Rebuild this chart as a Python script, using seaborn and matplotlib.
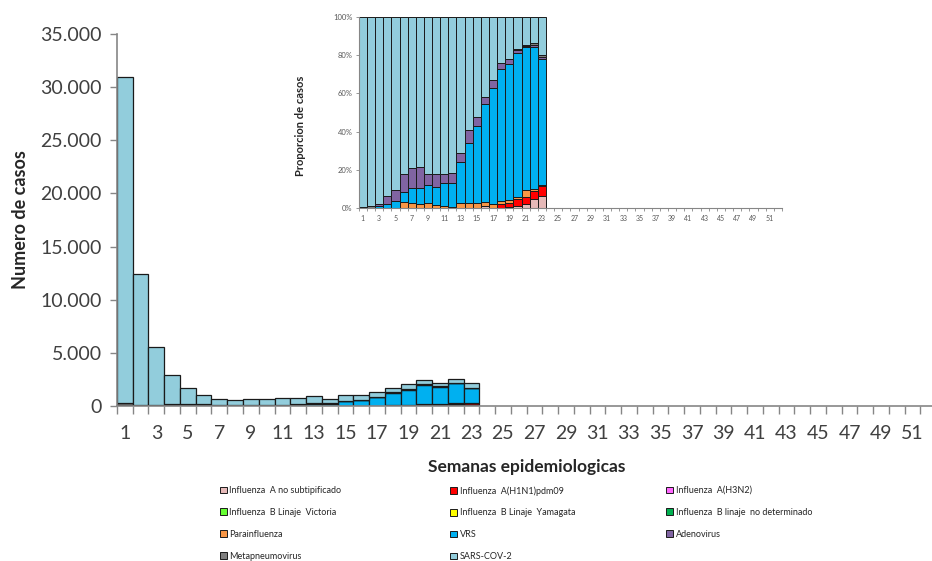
import numpy as np
import pandas as pd
import matplotlib
matplotlib.use("Agg")
import matplotlib.pyplot as plt
import seaborn as sns
from matplotlib.patches import Patch
from matplotlib.ticker import FuncFormatter, FixedLocator

# weeks with data (1-23); axis runs to week 52
weeks = list(range(1, 24))
n_weeks = 52

viruses = [
    "Influenza  A no subtipificado", "Influenza  A(H1N1)pdm09", "Influenza  A(H3N2)",
    "Influenza  B Linaje  Victoria", "Influenza  B Linaje  Yamagata",
    "Influenza  B linaje  no determinado", "Parainfluenza", "VRS", "Adenovirus",
    "Metapneumovirus", "SARS-COV-2",
]
colors = ["#E6B9B8", "#FF0000", "#FF66FF", "#66FF33", "#FFFF00", "#00B050",
          "#F79646", "#00B0F0", "#8064A2", "#7F7F7F", "#92CDDC"]

# cases per week
flu_a_nosub = [0, 0, 0, 0, 0, 0, 0, 0, 0, 0, 0, 0, 0, 0, 0, 10, 0, 0, 10, 25, 43, 127, 136]
flu_h1n1 = [0, 0, 0, 0, 0, 0, 0, 0, 0, 0, 0, 0, 0, 0, 0, 0, 0, 34, 41, 98, 86, 102, 107]
flu_h3n2 = [0] * 23
flu_b_victoria = [0] * 23
flu_b_yamagata = [0] * 23
flu_b_nodet = [0] * 23
parainfluenza = [0, 0, 0, 0, 0, 30, 17, 11, 17, 10, 8, 4, 23, 17, 25, 20, 26, 25, 41, 25, 76, 25, 11]
vrs = [90, 40, 55, 70, 60, 55, 51, 45, 64, 63, 93, 97, 197, 209, 404, 514, 805, 1166, 1448,
       1838, 1609, 1880, 1406]
adenovirus = [0, 0, 55, 115, 100, 93, 69, 61, 36, 46, 37, 44, 40, 42, 45, 38, 50, 59, 47,
              37, 22, 38, 21]
metapneumo = [150, 90, 0, 0, 0, 0, 0, 0, 0, 0, 0, 0, 0, 0, 0, 0, 0, 0, 0, 12, 11, 15, 21]
sars_cov2 = [30760, 12320, 5440, 2735, 1540, 822, 523, 423, 543, 541, 642, 635, 650, 392,
             526, 418, 439, 406, 453, 415, 313, 353, 428]

series = [flu_a_nosub, flu_h1n1, flu_h3n2, flu_b_victoria, flu_b_yamagata, flu_b_nodet,
          parainfluenza, vrs, adenovirus, metapneumo, sars_cov2]

df = pd.DataFrame([
    {"week": w, "virus": v, "cases": c}
    for v, vals in zip(viruses, series)
    for w, c in zip(weeks, vals)
])
palette = dict(zip(viruses, colors))

sns.set_style("white")
plt.rcParams["font.family"] = ["Lato", "DejaVu Sans"]

fig = plt.figure(figsize=(9.32, 5.61), dpi=100)
ax = fig.add_axes([0.1255, 0.2763, 0.879, 0.663])

# seaborn stacks the first hue level on top, so pass the order reversed
sns.histplot(data=df, x="week", weights="cases", hue="virus", hue_order=viruses[::-1],
             palette=palette, multiple="stack", discrete=True, shrink=1.0,
             edgecolor="#1a1a1a", linewidth=0.9, alpha=1, legend=False, ax=ax)

ax.set_xlim(0.5, n_weeks + 0.5)
ax.set_ylim(0, 35000)
ax.set_yticks(np.arange(0, 35001, 5000))
ax.yaxis.set_major_formatter(FuncFormatter(lambda v, p: f"{int(v):,}".replace(",", ".")))
ax.xaxis.set_major_locator(FixedLocator(np.arange(0.5, n_weeks + 1, 1)))
ax.xaxis.set_minor_locator(FixedLocator(np.arange(1, n_weeks + 1, 2)))
ax.xaxis.set_major_formatter(FuncFormatter(lambda v, p: ""))
ax.xaxis.set_minor_formatter(FuncFormatter(lambda v, p: f"{int(round(v))}"))
ax.tick_params(axis="x", which="major", length=6, width=1, color="#868686", bottom=True)
ax.tick_params(axis="x", which="minor", length=0, labelsize=14, labelcolor="#404040", pad=14)
ax.tick_params(axis="y", length=5, width=1, color="#868686", left=True,
               labelsize=14, labelcolor="#404040", pad=6)
for s in ["top", "right"]:
    ax.spines[s].set_visible(False)
for s in ["left", "bottom"]:
    ax.spines[s].set_color("#868686")
    ax.spines[s].set_linewidth(1.2)
ax.set_ylabel("Numero de casos", fontsize=13, fontweight="bold", labelpad=8)
ax.set_xlabel("Semanas epidemiologicas", fontsize=12.5, fontweight="bold", labelpad=12)

# inset: proportion of cases
ins = fig.add_axes([0.385, 0.629, 0.454, 0.341])
sns.histplot(data=df, x="week", weights="cases", hue="virus", hue_order=viruses[::-1],
             palette=palette, multiple="fill", discrete=True, shrink=1.0,
             edgecolor="#1a1a1a", linewidth=0.7, alpha=1, legend=False, ax=ins)
ins.set_xlim(0.5, n_weeks + 0.5)
ins.set_ylim(0, 1)
ins.set_yticks(np.arange(0, 1.01, 0.2))
ins.yaxis.set_major_formatter(FuncFormatter(lambda v, p: f"{int(round(v * 100))}%"))
ins.xaxis.set_major_locator(FixedLocator(np.arange(0.5, n_weeks + 1, 1)))
ins.xaxis.set_minor_locator(FixedLocator(np.arange(1, n_weeks + 1, 2)))
ins.xaxis.set_major_formatter(FuncFormatter(lambda v, p: ""))
ins.xaxis.set_minor_formatter(FuncFormatter(lambda v, p: f"{int(round(v))}"))
ins.tick_params(axis="x", which="major", length=2.5, width=0.6, color="#868686", bottom=True)
ins.tick_params(axis="x", which="minor", length=0, labelsize=5, labelcolor="#595959", pad=5)
ins.tick_params(axis="y", length=2.5, width=0.6, color="#868686", left=True,
                labelsize=5.5, labelcolor="#595959", pad=2)
for s in ["top", "right"]:
    ins.spines[s].set_visible(False)
for s in ["left", "bottom"]:
    ins.spines[s].set_color("#868686")
    ins.spines[s].set_linewidth(0.8)
ins.set_xlabel("")
ins.set_ylabel("Proporcion de casos", fontsize=8, fontweight="bold")
ins.yaxis.set_label_coords(-0.125, 0.43)

# legend: three columns placed separately, rows read left to right
handles = [Patch(facecolor=c, edgecolor="#1a1a1a", linewidth=0.7, label=v)
           for v, c in zip(viruses, colors)]
col_x = [0.232, 0.479, 0.711]
for i, x in enumerate(col_x):
    fig.legend(handles=handles[i::3], loc="upper left", bbox_to_anchor=(x, 0.14),
               bbox_transform=fig.transFigure, frameon=False, fontsize=6.5,
               handlelength=0.75, handleheight=0.75, handletextpad=0.3,
               labelspacing=1.42, borderaxespad=0)

fig.savefig("out.png", dpi=100)
